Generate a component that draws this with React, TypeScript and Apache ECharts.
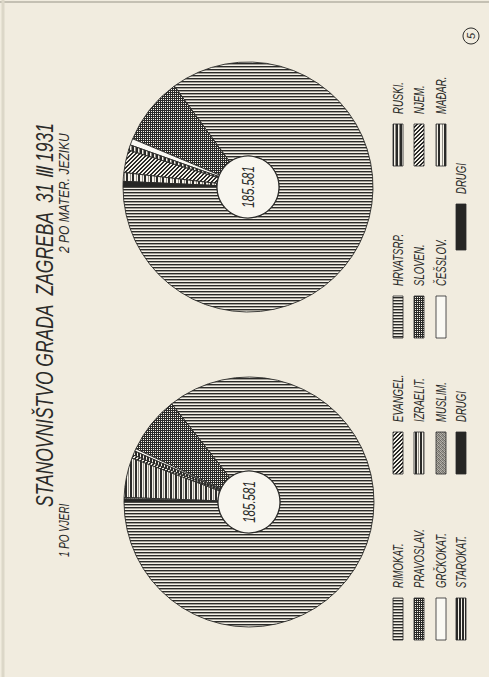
import React, { useEffect, useRef } from 'react';
import * as echarts from 'echarts';

// ---------- text ----------
const TITLE = 'STANOVNIŠTVO GRADA  ZAGREBA  31 Ⅲ 1931';
const SUBTITLE_RELIGION = '1 PO VJERI';
const SUBTITLE_LANGUAGE = '2 PO MATER. JEZIKU';
const TOTAL_LABEL = '185.581';
const PAGE_MARK = '5';

// ---------- data (population of Zagreb, 31 III 1931, total 185.581) ----------
const religionNames = ['RIMOKAT.', 'PRAVOSLAV.', 'GRČKOKAT.', 'STAROKAT.', 'EVANGEL.', 'IZRAELIT.', 'MUSLIM.', 'DRUGI'];
const religionValues = [158900, 13700, 600, 1000, 800, 9500, 400, 681];
const religionPatterns = ['hlines', 'grid', 'white', 'bars', 'hatch', 'stripes', 'stipple', 'black'];

const languageNames = ['HRVATSRP.', 'SLOVEN.', 'ČEŠSLOV.', 'RUSKI.', 'NJEM.', 'MAĐAR.', 'DRUGI'];
const languageValues = [157800, 16100, 1550, 1300, 5400, 2100, 1331];
const languagePatterns = ['hlines', 'grid', 'white', 'bars2', 'hatch', 'bars3', 'black'];

// ---------- layout / style ----------
const W = 489;
const H = 677;
const PAPER = '#f1ecdf';
const INK = '#2a2a28';
const LIGHT = '#f5f2e9';
const MID = '#8f8c85';
const FONT = '"Liberation Sans", Arial, sans-serif';

const PIE_R = 125;
const HOLE_R = 31;
const RELIGION_CENTER = [249, 502];
const LANGUAGE_CENTER = [248, 187];
const ROW_X = [398, 419, 441, 461];
const SWATCH_W = 10;

const RELIGION_LEGEND_COLS: Record<string, { top: number; bottom: number; text: number }> = {
  A: { top: 598, bottom: 640, text: 588 },
  B: { top: 432, bottom: 474, text: 422 },
};
const LANGUAGE_LEGEND_COLS: Record<string, { top: number; bottom: number; text: number }> = {
  A: { top: 296, bottom: 338, text: 286 },
  B: { top: 124, bottom: 166, text: 114 },
  M: { top: 204, bottom: 250, text: 194 },
};
const religionSlots: [string, number][] = [['A', 0], ['A', 1], ['A', 2], ['A', 3], ['B', 0], ['B', 1], ['B', 2], ['B', 3]];
const languageSlots: [string, number][] = [['A', 0], ['A', 1], ['A', 2], ['B', 0], ['B', 1], ['B', 2], ['M', 3]];

const STIPPLE = [
  '#6d6b66', '#b4b1a9', '#7d7b75', '#a09d96',
  '#a9a69e', '#74726d', '#bdbab2', '#84827c',
  '#8a8882', '#b0ada5', '#686661', '#a5a29b',
  '#bbb8b0', '#7a7873', '#9c9992', '#6f6d68',
];

function makePattern(w: number, h: number, fn: (x: number, y: number) => string) {
  const c = document.createElement('canvas');
  c.width = w;
  c.height = h;
  const ctx = c.getContext('2d')!;
  for (let y = 0; y < h; y++) {
    for (let x = 0; x < w; x++) {
      ctx.fillStyle = fn(x, y);
      ctx.fillRect(x, y, 1, 1);
    }
  }
  return { image: c.toDataURL(), repeat: 'repeat', imageWidth: w, imageHeight: h };
}

function buildPatterns(): Record<string, any> {
  return {
    hlines: makePattern(1, 3, (_x, y) => (y === 0 ? INK : y === 1 ? '#a3a098' : LIGHT)),
    grid: makePattern(2, 2, (x, y) => (x === 1 && y === 1 ? LIGHT : INK)),
    white: '#faf9f3',
    bars: makePattern(3, 1, (x) => (x < 2 ? INK : LIGHT)),
    stripes: makePattern(5, 1, (x) => (x < 2 ? INK : x === 3 ? MID : LIGHT)),
    hatch: makePattern(4, 4, (x, y) => ((x + y) % 4 < 2 ? INK : LIGHT)),
    stipple: makePattern(4, 4, (x, y) => STIPPLE[y * 4 + x]),
    black: '#262624',
    bars2: makePattern(4, 1, (x) => (x < 2 ? INK : x === 3 ? MID : LIGHT)),
    bars3: makePattern(6, 1, (x) => (x < 2 ? INK : x === 4 ? MID : LIGHT)),
  };
}

function vText(text: string, x: number, y: number, size: number, sx: number, align = 'left') {
  return {
    type: 'text',
    x,
    y,
    z: 50,
    rotation: Math.PI / 2,
    scaleX: sx,
    silent: true,
    style: {
      text,
      fill: INK,
      fontSize: size,
      fontFamily: FONT,
      fontStyle: 'italic',
      align,
      verticalAlign: 'middle',
    },
  };
}

function pieSeries(center: number[], names: string[], values: number[], pats: string[], P: Record<string, any>) {
  return {
    type: 'pie',
    center,
    radius: [HOLE_R, PIE_R],
    startAngle: 180,
    clockwise: false,
    silent: true,
    label: { show: false },
    labelLine: { show: false },
    emphasis: { disabled: true },
    itemStyle: { borderColor: INK, borderWidth: 0.9 },
    data: names.map((n, i) => ({ name: n, value: values[i], itemStyle: { color: P[pats[i]] } })),
  };
}

function discSeries(center: number[], total: number) {
  return {
    type: 'pie',
    center,
    radius: [0, HOLE_R],
    silent: true,
    label: { show: false },
    labelLine: { show: false },
    emphasis: { disabled: true },
    data: [{ name: 'UKUPNO', value: total, itemStyle: { color: '#f8f6ef', borderColor: INK, borderWidth: 1.2 } }],
  };
}

function legendGraphics(
  names: string[],
  pats: string[],
  slots: [string, number][],
  cols: Record<string, { top: number; bottom: number; text: number }>,
  P: Record<string, any>
) {
  const out: any[] = [];
  names.forEach((n, i) => {
    const [col, row] = slots[i];
    const c = cols[col];
    const x = ROW_X[row];
    out.push({
      type: 'rect',
      silent: true,
      shape: { x: x - SWATCH_W / 2, y: c.top, width: SWATCH_W, height: c.bottom - c.top },
      style: { fill: P[pats[i]], stroke: INK, lineWidth: 0.8 },
    });
    out.push(vText(n, x, c.text, 15, 0.64));
  });
  return out;
}

export default function App() {
  const ref = useRef<HTMLDivElement>(null);

  useEffect(() => {
    if (!ref.current) return;
    const chart = echarts.init(ref.current, null, { renderer: 'svg', width: W, height: H });
    const P = buildPatterns();
    const sum = (a: number[]) => a.reduce((s, v) => s + v, 0);

    const graphic: any[] = [
      // scan edges
      { type: 'line', silent: true, shape: { x1: 0, y1: 2, x2: W, y2: 2 }, style: { stroke: '#c4c0b3', lineWidth: 2 } },
      { type: 'line', silent: true, shape: { x1: 3, y1: 0, x2: 3, y2: H }, style: { stroke: '#dcd7c8', lineWidth: 3 } },
      // titles
      vText(TITLE, 45, 507, 23, 0.76),
      vText(SUBTITLE_RELIGION, 64, 557, 15, 0.66),
      vText(SUBTITLE_LANGUAGE, 64, 253, 15, 0.8),
      // centre totals
      vText(TOTAL_LABEL, RELIGION_CENTER[0], RELIGION_CENTER[1], 16, 0.72, 'center'),
      vText(TOTAL_LABEL, LANGUAGE_CENTER[0], LANGUAGE_CENTER[1], 16, 0.72, 'center'),
      // page mark
      { type: 'circle', silent: true, shape: { cx: 471, cy: 36, r: 8 }, style: { fill: 'none', stroke: INK, lineWidth: 1 } },
      vText(PAGE_MARK, 471, 36, 11, 1, 'center'),
      ...legendGraphics(religionNames, religionPatterns, religionSlots, RELIGION_LEGEND_COLS, P),
      ...legendGraphics(languageNames, languagePatterns, languageSlots, LANGUAGE_LEGEND_COLS, P),
    ];

    chart.setOption({
      animation: false,
      backgroundColor: PAPER,
      series: [
        pieSeries(RELIGION_CENTER, religionNames, religionValues, religionPatterns, P),
        discSeries(RELIGION_CENTER, sum(religionValues)),
        pieSeries(LANGUAGE_CENTER, languageNames, languageValues, languagePatterns, P),
        discSeries(LANGUAGE_CENTER, sum(languageValues)),
      ],
      graphic,
    });
    return () => chart.dispose();
  }, []);

  return <div ref={ref} style={{ position: 'fixed', left: 0, top: 0, width: W, height: H }} />;
}
